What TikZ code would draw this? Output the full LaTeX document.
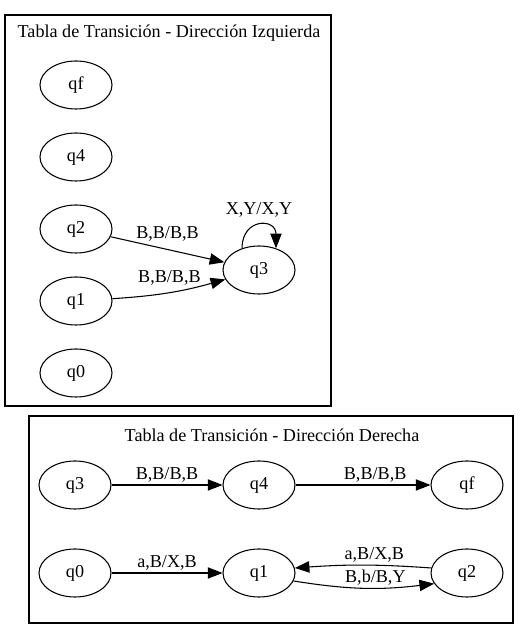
\documentclass[tikz,border=0pt]{standalone}
\usepackage{fontspec}
\setmainfont{Liberation Serif}
\usetikzlibrary{arrows.meta,shapes.geometric}
\tikzset{st/.append style={draw,ellipse,minimum width=54pt,minimum height=36pt,inner sep=0pt}}
\tikzset{lb/.append style={inner sep=0.5pt}}
\tikzset{tr/.append style={->,>={Triangle[length=11pt,width=8.5pt]}}}

\begin{document}
\begin{tikzpicture}[x=0.75pt,y=0.75pt,line width=0.8pt,font=\fontsize{13.6}{16.3}\selectfont]
                \useasboundingbox (0,0) rectangle (530,640);
                % izquierda
                \draw (5,234) rectangle (331,625);
                \node (tizq) at (169,607) {Tabla de Transición - Dirección Izquierda};
                \node[st] (lqf) at (76,555) {qf};
                \node[st] (lq4) at (76,483) {q4};
                \node[st] (lq2) at (76,411) {q2};
                \node[st] (lq1) at (76,339) {q1};
                \node[st] (lq0) at (76,267) {q0};
                \node[st] (lq3) at (259,370) {q3};
                \path (lq2) edge[tr] node[lb,above=5.5pt]{B,B/B,B} (lq3);
                \path (lq1) edge[tr,bend right=6] node[lb,above=4.5pt]{B,B/B,B} (lq3);
                \path (lq3.128) edge[tr,out=90,in=90,looseness=2.3] node[lb,above=5pt]{X,Y/X,Y} (lq3.52);
                % derecha
                \draw (29,17) rectangle (513,224);
                \node (tder) at (272,205) {Tabla de Transición - Dirección Derecha};
                \node[st] (rq3) at (75,155) {q3};
                \node[st] (rq4) at (259,155) {q4};
                \node[st] (rqf) at (467,155) {qf};
                \node[st] (rq0) at (75,67) {q0};
                \node[st] (rq1) at (259,67) {q1};
                \node[st] (rq2) at (467,67) {q2};
                \path (rq3) edge[tr] node[lb,above=1pt]{B,B/B,B} (rq4);
                \path (rq4) edge[tr] node[lb,above=1pt,pos=0.59]{B,B/B,B} (rqf);
                \path (rq0) edge[tr] node[lb,above=1pt]{a,B/X,B} (rq1);
                \path (rq2.172) edge[tr,bend right=4] node[lb,above=1.5pt,pos=0.41]{a,B/X,B} (rq1.8);
                \path (rq1.-13) edge[tr,bend right=8] node[lb,above=1.5pt,pos=0.59]{B,b/B,Y} (rq2.-162);
            \end{tikzpicture}
\end{document}
